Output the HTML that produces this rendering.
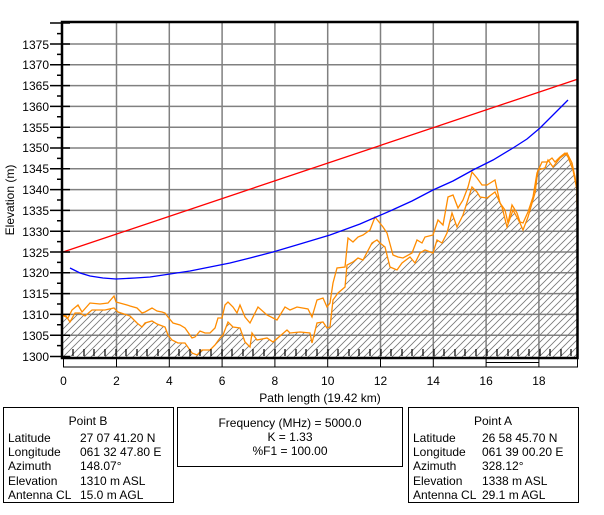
<!DOCTYPE html>
<html><head><meta charset="utf-8"><style>
html,body{margin:0;padding:0;background:#fff;}
svg{display:block;font-family:"Liberation Sans",Arial,sans-serif;}
</style></head><body>
<svg width="604" height="515" viewBox="0 0 604 515" xmlns="http://www.w3.org/2000/svg">
<defs>
<pattern id="h" patternUnits="userSpaceOnUse" width="7" height="7">
<path d="M-1,8 L8,-1 M-2,2 L2,-2 M5,9 L9,5" stroke="#777" stroke-width="0.8"/>
</pattern>
<clipPath id="pc"><rect x="63" y="22" width="514" height="336"/></clipPath>
</defs>
<g stroke="#808080" stroke-width="1.5">
<line x1="63" x2="577" y1="335.2" y2="335.2"/><line x1="63" x2="577" y1="314.4" y2="314.4"/>
<line x1="63" x2="577" y1="293.6" y2="293.6"/><line x1="63" x2="577" y1="272.8" y2="272.8"/>
<line x1="63" x2="577" y1="252" y2="252"/><line x1="63" x2="577" y1="231.2" y2="231.2"/>
<line x1="63" x2="577" y1="210.4" y2="210.4"/><line x1="63" x2="577" y1="189.6" y2="189.6"/>
<line x1="63" x2="577" y1="168.8" y2="168.8"/><line x1="63" x2="577" y1="148" y2="148"/>
<line x1="63" x2="577" y1="127.2" y2="127.2"/><line x1="63" x2="577" y1="106.4" y2="106.4"/>
<line x1="63" x2="577" y1="85.6" y2="85.6"/><line x1="63" x2="577" y1="64.8" y2="64.8"/>
<line x1="63" x2="577" y1="44" y2="44"/>
<line x1="116.5" x2="116.5" y1="22" y2="358"/><line x1="169.3" x2="169.3" y1="22" y2="358"/>
<line x1="222.1" x2="222.1" y1="22" y2="358"/><line x1="274.9" x2="274.9" y1="22" y2="358"/>
<line x1="327.7" x2="327.7" y1="22" y2="358"/><line x1="380.5" x2="380.5" y1="22" y2="358"/>
<line x1="433.3" x2="433.3" y1="22" y2="358"/><line x1="486.1" x2="486.1" y1="22" y2="358"/>
<line x1="538.9" x2="538.9" y1="22" y2="358"/>
</g>
<g clip-path="url(#pc)">
<path fill="url(#h)" stroke="none" d="M62,315 L66,316 L70,322 L75,313 L80,313 L85,316 L92,310 L105,310 L114,308 L118,312 L130,316 L137,323 L142,327 L145,323 L152,321 L157,324 L165,327 L168,335 L172,340 L178,343 L185,343 L192,353 L197,355 L202,350 L210,350 L215,345 L220,338 L223,335 L228,322 L233,327 L240,328 L245,342 L250,347 L252,333 L257,340 L267,338 L273,342 L287,330 L290,333 L300,332 L310,333 L312,343 L317,323 L323,322 L327,328 L330,327 L333,300 L338,293 L345,287 L347,265 L353,262 L358,258 L363,260 L372,243 L377,240 L380,243 L385,247 L390,267 L397,270 L402,263 L410,257 L415,263 L420,253 L425,250 L433,253 L437,240 L442,243 L447,233 L452,213 L457,227 L463,215 L472,187 L477,192 L480,197 L487,198 L495,192 L502,207 L507,227 L513,210 L520,223 L523,230 L528,217 L535,193 L538,170 L545,168 L548,160 L553,167 L560,158 L567,153 L572,163 L575,177 L577,190 L577,358 L62,358 Z"/>
<polyline fill="none" stroke="#ff8c00" stroke-width="1.3" points="62,315 66,316 70,322 75,313 80,313 85,316 92,310 105,310 114,308 118,312 130,316 137,323 142,327 145,323 152,321 157,324 165,327 168,335 172,340 178,343 185,343 192,353 197,355 202,350 210,350 215,345 220,338 223,335 228,322 233,327 240,328 245,342 250,347 252,333 257,340 267,338 273,342 287,330 290,333 300,332 310,333 312,343 317,323 323,322 327,328 330,327 333,300 338,293 345,287 347,265 353,262 358,258 363,260 372,243 377,240 380,243 385,247 390,267 397,270 402,263 410,257 415,263 420,253 425,250 433,253 437,240 442,243 447,233 452,213 457,227 463,215 472,187 477,192 480,197 487,198 495,192 502,207 507,227 513,210 520,223 523,230 528,217 535,193 538,170 545,168 548,160 553,167 560,158 567,153 572,163 575,177 577,190 577,205"/>
<polyline fill="none" stroke="#ff8c00" stroke-width="1.3" points="62,315 68,318 72,310 78,305 82,312 90,303 100,304 108,303 114,296 116,302 127,305 130,306 137,308 142,313 145,312 152,308 157,311 162,312 165,313 168,317 173,323 180,325 185,328 192,338 195,337 200,331 205,333 210,333 215,328 218,318 222,318 225,305 228,302 233,307 237,313 240,305 245,317 250,323 258,307 267,315 277,320 285,307 290,310 297,307 308,309 312,317 317,300 323,298 327,307 330,303 333,283 337,268 345,267 348,238 353,242 358,237 363,235 370,230 375,217 383,227 387,233 393,255 398,257 403,258 412,253 417,240 422,243 425,237 433,235 438,220 443,225 448,197 453,195 458,208 463,200 468,187 472,172 477,178 482,185 487,185 495,180 500,203 505,210 508,223 512,205 517,213 520,222 523,223 528,212 533,197 537,173 542,162 547,162 552,158 555,162 560,157 565,153 568,157 573,170 577,190 577,202"/>
<g stroke="#000" stroke-width="1.2">
<path d="M73,349v7M84,349v7M94,349v7M105,349v7M116,349v7M126,349v7M137,349v7M147,349v7M158,349v7M169,349v7M179,349v7M190,349v7M200,349v7M211,349v7M222,349v7M232,349v7M243,349v7M253,349v7M264,349v7M275,349v7M285,349v7M296,349v7M306,349v7M317,349v7M328,349v7M338,349v7M349,349v7M359,349v7M370,349v7M381,349v7M391,349v7M402,349v7M412,349v7M423,349v7M434,349v7M444,349v7M455,349v7M465,349v7M476,349v7M487,349v7M497,349v7M508,349v7M518,349v7M529,349v7M540,349v7M550,349v7M561,349v7M571,349v7"/>
</g>
</g>
<line x1="63" y1="252" x2="577" y2="79.4" stroke="#ff0000" stroke-width="1.3"/>
<polyline fill="none" stroke="#0000ff" stroke-width="1.3" points="70,268 80,273 90,276 103,278 116,279 135,278 150,277 170,274 190,271 210,267 230,263 250,258 273,252 300,244 330,235 360,224 390,211 412,201 433,190 453,181 473,170 493,160 513,148 527,139 540,128 550,118 560,108 568,100"/>
<rect x="62" y="22" width="515.5" height="336" fill="none" stroke="#000" stroke-width="2.5"/>
<g stroke="#000" stroke-width="1">
<rect x="63.5" y="358.5" width="514" height="8.5" fill="none"/>
<path d="M116.5,358v9M169.3,358v9M222.1,358v9M274.9,358v9M327.7,358v9M380.5,358v9M433.3,358v9M486.1,358v9M538.9,358v9"/>
<path d="M486.1,362.5H538.9"/>
</g>
<g stroke="#000" stroke-width="1.5">
<path d="M50,356.5H70M50,335.2H70M50,314.4H70M50,293.6H70M50,272.8H70M50,252H70M50,231.2H70M50,210.4H70M50,189.6H70M50,168.8H70M50,148H70M50,127.2H70M50,106.4H70M50,85.6H70M50,64.8H70M50,44H70M50,23H70"/>
<path d="M57,345.6H62M57,324.8H62M57,304H62M57,283.2H62M57,262.4H62M57,241.6H62M57,220.8H62M57,200H62M57,179.2H62M57,158.4H62M57,137.6H62M57,116.8H62M57,96H62M57,75.2H62M57,54.4H62M57,33.6H62"/>
</g>
<g font-size="12" fill="#000" text-anchor="end">
<text x="49" y="361">1300</text><text x="49" y="340">1305</text><text x="49" y="319">1310</text>
<text x="49" y="298">1315</text><text x="49" y="277">1320</text><text x="49" y="257">1325</text>
<text x="49" y="236">1330</text><text x="49" y="215">1335</text><text x="49" y="194">1340</text>
<text x="49" y="173">1345</text><text x="49" y="152">1350</text><text x="49" y="132">1355</text>
<text x="49" y="111">1360</text><text x="49" y="90">1365</text><text x="49" y="69">1370</text>
<text x="49" y="49">1375</text>
</g>
<g font-size="12" fill="#000" text-anchor="middle">
<text x="63.5" y="385">0</text><text x="116.5" y="385">2</text><text x="169.3" y="385">4</text>
<text x="222.1" y="385">6</text><text x="274.9" y="385">8</text><text x="327.7" y="385">10</text>
<text x="380.5" y="385">12</text><text x="433.3" y="385">14</text><text x="486.1" y="385">16</text>
<text x="538.9" y="385">18</text>
<text x="320" y="402">Path length (19.42 km)</text>
<text transform="translate(14,200) rotate(-90)">Elevation (m)</text>
</g>
<g fill="none" stroke="#000" stroke-width="1">
<rect x="3.5" y="407.5" width="170" height="95"/>
<rect x="177.5" y="407.5" width="225" height="59"/>
<rect x="408.5" y="407.5" width="170" height="95"/>
</g>
<g font-size="12" fill="#000">
<text x="88" y="425" text-anchor="middle">Point B</text>
<text x="8" y="442">Latitude</text><text x="80" y="442">27 07 41.20 N</text>
<text x="8" y="456">Longitude</text><text x="80" y="456">061 32 47.80 E</text>
<text x="8" y="470">Azimuth</text><text x="80" y="470">148.07°</text>
<text x="8" y="485">Elevation</text><text x="80" y="485">1310 m ASL</text>
<text x="8" y="499">Antenna CL</text><text x="80" y="499">15.0 m AGL</text>
<text x="290" y="427" text-anchor="middle">Frequency (MHz) = 5000.0</text>
<text x="290" y="441" text-anchor="middle">K =  1.33</text>
<text x="290" y="455" text-anchor="middle">%F1 = 100.00</text>
<text x="493" y="425" text-anchor="middle">Point A</text>
<text x="413" y="442">Latitude</text><text x="482" y="442">26 58 45.70 N</text>
<text x="413" y="456">Longitude</text><text x="482" y="456">061 39 00.20 E</text>
<text x="413" y="470">Azimuth</text><text x="482" y="470">328.12°</text>
<text x="413" y="485">Elevation</text><text x="482" y="485">1338 m ASL</text>
<text x="413" y="499">Antenna CL</text><text x="482" y="499">29.1 m AGL</text>
</g>
</svg>
</body></html>
